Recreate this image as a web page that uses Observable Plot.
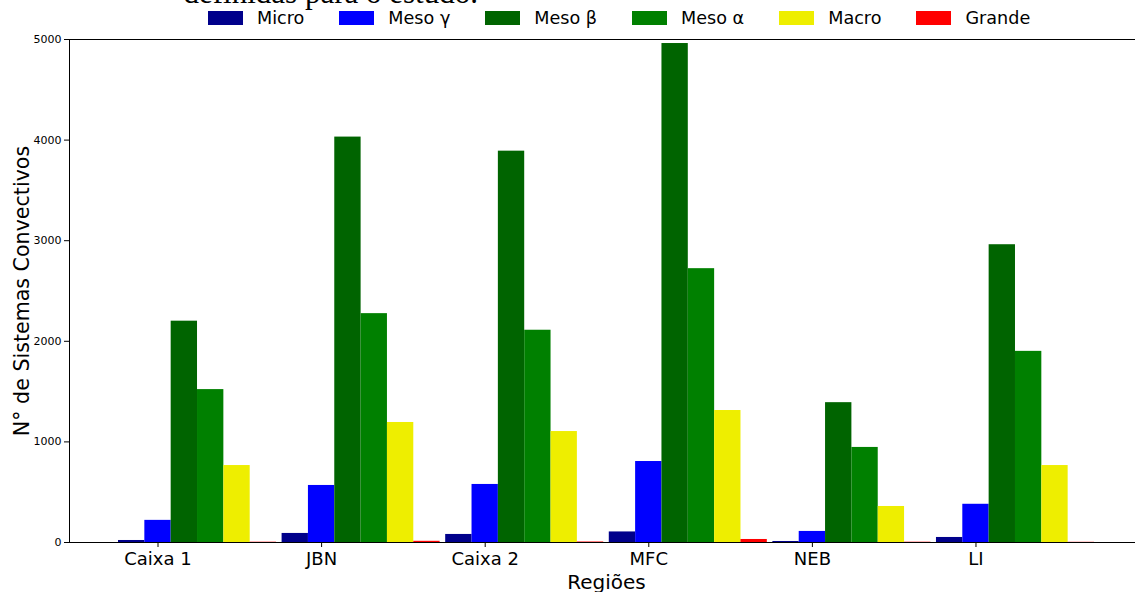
<!DOCTYPE html>
<html><head><meta charset="utf-8">
<script src="https://cdn.jsdelivr.net/npm/d3@7"></script>
<script src="https://cdn.jsdelivr.net/npm/@observablehq/plot@0.6"></script>
<style>
body{margin:0;background:#fff;}
#wrap{position:relative;width:1135px;height:592px;overflow:hidden;font-family:"DejaVu Sans";background:#fff;}
#wrap svg{position:absolute;left:0;top:0;}
#legend{position:absolute;left:208px;top:11px;display:flex;align-items:center;font-size:17.6px;line-height:14px;color:#000;white-space:nowrap;}
#legend .item{display:flex;align-items:center;margin-right:35px;}
#legend .item:last-child{margin-right:0;}
#legend .sw{display:inline-block;width:35px;height:14px;margin-right:14px;}
</style></head><body><div id="wrap"></div>
<script>
const regions = ["Caixa 1", "JBN", "Caixa 2", "MFC", "NEB", "LI"];
const series = ["Micro", "Meso γ", "Meso β", "Meso α", "Macro", "Grande"];
const colors = ["#00008b", "#0000ff", "#006400", "#008000", "#eeee00", "#ff0000"];
const micro = [20, 90, 80, 105, 10, 50];
const mesoGamma = [220, 567, 577, 805, 110, 380];
const mesoBeta = [2200, 4030, 3890, 4960, 1390, 2960];
const mesoAlpha = [1520, 2275, 2110, 2722, 945, 1900];
const macro = [765, 1193, 1103, 1312, 358, 765];
const grande = [3, 12, 5, 30, 3, 2];
const yTicks = [0, 1000, 2000, 3000, 4000, 5000];
const tickSeries = "Meso γ";
const yLabel = "N° de Sistemas Convectivos";
const xLabel = "Regiões";
const titleFragment = "definidas para o estudo.";

const seriesValues = [micro, mesoGamma, mesoBeta, mesoAlpha, macro, grande];
const table = [];
regions.forEach((r, i) => series.forEach((s, j) => table.push({region: r, series: s, value: seriesValues[j][i]})));

const wrap = document.getElementById("wrap");

const bars = Plot.plot({
  width: 1135, height: 592,
  marginTop: 39, marginBottom: 50, marginLeft: 118, marginRight: 41,
  fx: {domain: regions, paddingInner: 0.034, paddingOuter: 0, axis: null, label: null, round: false},
  x: {domain: series, padding: 0, axis: null, round: false},
  y: {domain: [0, 5000], axis: null},
  color: {domain: series, range: colors},
  style: {background: "transparent", fontFamily: "DejaVu Sans", color: "#000"},
  marks: [
    Plot.barY(table, {fx: "region", x: "series", y: "value", fill: "series"}),
    Plot.text(regions, {fx: d => d, x: () => tickSeries, text: d => d, frameAnchor: "bottom", dy: 22, lineAnchor: "bottom", fontSize: 18, fill: "#000"}),
    Plot.ruleX(regions, {fx: d => d, x: () => tickSeries, y1: () => 0, y2: () => 0, insetBottom: -5, stroke: "#000"})
  ]
});
wrap.appendChild(bars);

const chrome = Plot.plot({
  width: 1135, height: 592,
  marginTop: 39, marginBottom: 50, marginLeft: 69, marginRight: 0,
  x: {domain: [0, 1], axis: null},
  y: {domain: [0, 5000], axis: null},
  style: {background: "transparent", fontFamily: "DejaVu Sans", color: "#000"},
  marks: [
    Plot.axisY(yTicks, {tickSize: 5, tickPadding: 3, fontSize: 11, tickFormat: d => String(d), label: null, stroke: "#000"}),
    Plot.ruleY([0, 5000], {stroke: "#000"}),
    Plot.ruleX([0], {stroke: "#000"}),
    Plot.text([yLabel], {frameAnchor: "left", dx: -41, rotate: -90, textAnchor: "middle", lineAnchor: "bottom", fontSize: 20.6, text: d => d, fill: "#000"}),
    Plot.text([xLabel], {frameAnchor: "bottom", dx: 4, dy: 46, textAnchor: "middle", lineAnchor: "bottom", fontSize: 20, text: d => d, fill: "#000"}),
    Plot.text([titleFragment], {frameAnchor: "top-left", dx: 114, dy: -37, lineAnchor: "bottom", textAnchor: "start", fontSize: 31, fontFamily: "Liberation Serif", text: d => d, fill: "#000"})
  ]
});
wrap.appendChild(chrome);

const legend = document.createElement("div");
legend.id = "legend";
series.forEach((s, j) => {
  const item = document.createElement("div");
  item.className = "item";
  const sw = document.createElement("span");
  sw.className = "sw";
  sw.style.background = colors[j];
  const lab = document.createElement("span");
  lab.textContent = s;
  item.appendChild(sw);
  item.appendChild(lab);
  legend.appendChild(item);
});
wrap.appendChild(legend);
</script>
</body></html>
